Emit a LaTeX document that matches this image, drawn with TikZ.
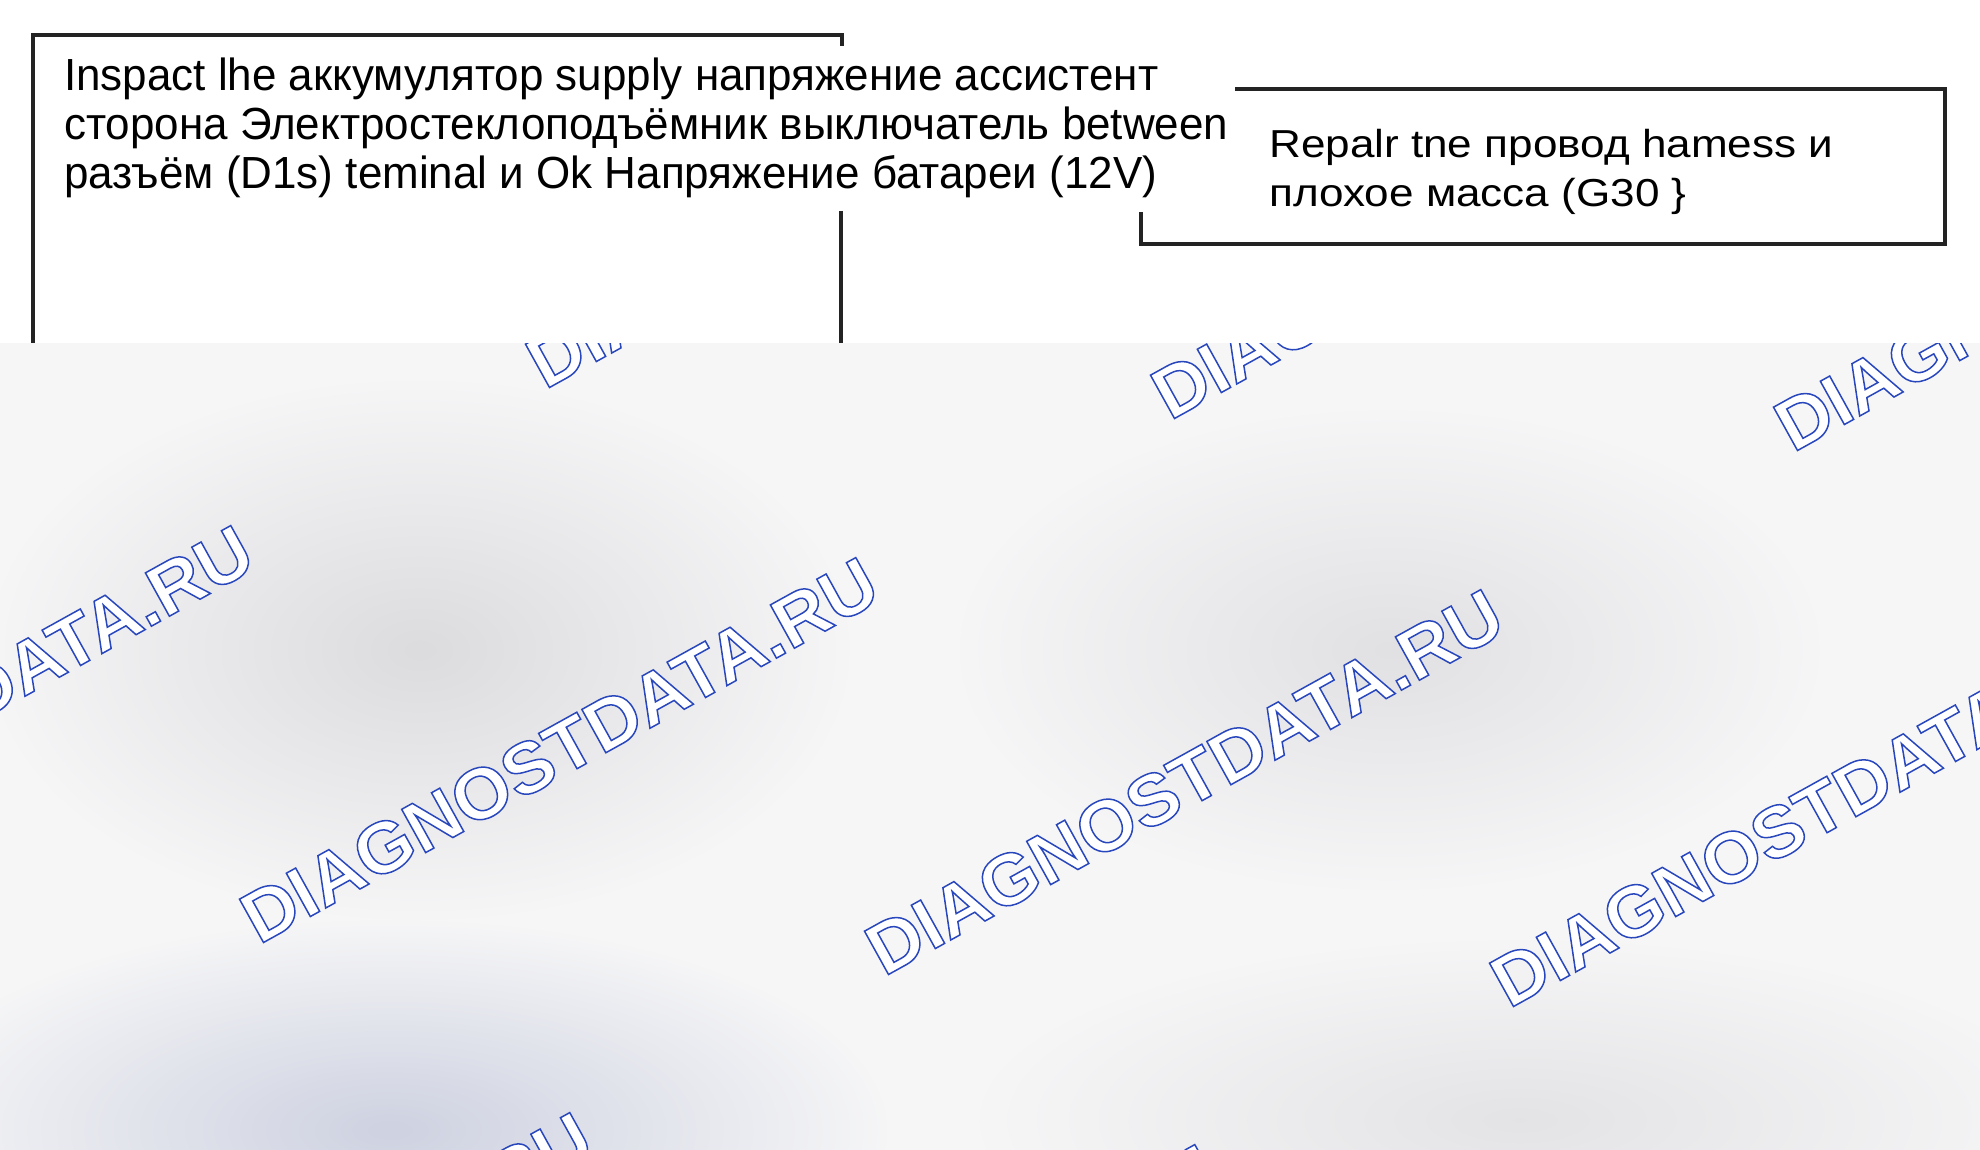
\documentclass[tikz,border=0pt]{standalone}
\usepackage{fontspec}
\setmainfont{Liberation Sans}
\newfontfamily\wmfont{Liberation Sans}[FakeStretch=1.03]
\newfontfamily\leftfont{Liberation Sans}[FakeStretch=0.977]
\newfontfamily\rightfont{Liberation Sans}[FakeStretch=1.13]
\usetikzlibrary{fadings}
\tikzfading[name=blob, inner color=transparent!0, outer color=transparent!100]
\definecolor{bgbase}{RGB}{246,246,247}
\definecolor{blobgrey}{RGB}{220,220,223}
\definecolor{blobblue}{RGB}{206,210,225}
\definecolor{boxline}{RGB}{35,35,35}
\newcommand{\wmtext}{{\color{white}\special{pdf:literal direct 2 Tr 1.5 w 0.16 0.28 0.74 RG}DIAGNOSTDATA.RU\special{pdf:literal direct 0 Tr}}}
\tikzset{
  wm/.style={anchor=base west, inner sep=0, rotate=29, font=\wmfont\bfseries\fontsize{72}{72}\selectfont},
  bigtxt/.style={anchor=base west, inner sep=0, font=\leftfont\fontsize{45}{49}\selectfont},
  smalltxt/.style={anchor=base west, inner sep=0, font=\rightfont\fontsize{39}{49}\selectfont},
  border/.style={draw=boxline, line width=3.4pt},
  blobfill/.style={path fading=blob}
}
\begin{document}
\begin{tikzpicture}[x=1pt,y=-1pt]
\useasboundingbox (0,0) rectangle (1980,1150);
% background
\fill[bgbase] (0,0) rectangle (1980,1150);
\fill[blobgrey, blobfill] (420,650) ellipse [x radius=430, y radius=270];
\fill[blobgrey, blobfill, fill opacity=0.8] (1390,650) ellipse [x radius=430, y radius=240];
\fill[blobblue, blobfill] (390,1130) ellipse [x radius=500, y radius=210];
\fill[blobgrey, blobfill, fill opacity=0.7] (1520,1120) ellipse [x radius=540, y radius=180];
% watermarks
\node[wm] (w1) at (545,390) {\wmtext};
\node[wm] (w2) at (1170,421) {\wmtext};
\node[wm] (w3) at (1793,453) {\wmtext};
\node[wm] (w4) at (-366,913) {\wmtext};
\node[wm] (w5) at (259,945) {\wmtext};
\node[wm] (w6) at (884,977) {\wmtext};
\node[wm] (w7) at (1509,1009) {\wmtext};
\node[wm] (w8) at (-27,1500) {\wmtext};
\node[wm] (w9) at (598,1532) {\wmtext};
% white top band
\fill[white] (0,0) rectangle (1980,343);
% left box
\coordinate (lbtick) at (842,46);
\coordinate (lbtr) at (842,35);
\coordinate (lbtl) at (33,35);
\coordinate (lbbl) at (33,343);
\coordinate (lbrt) at (841,211);
\coordinate (lbrb) at (841,343);
\draw[border] (lbtick) -- (lbtr) -- (lbtl) -- (lbbl);
\draw[border] (lbrt) -- (lbrb);
\node[bigtxt] (l1) at (64,91) {Inspact lhe аккумулятор supply напряжение ассистент};
\node[bigtxt] (l2) at (64,140) {сторона Электростеклоподъёмник выключатель between};
\node[bigtxt] (l3) at (64,189) {разъём (D1s) teminal и Ok Напряжение батареи (12V)};
% right box
\coordinate (rbtl) at (1235,89);
\coordinate (rbtr) at (1945,89);
\coordinate (rbbr) at (1945,244);
\coordinate (rbbl) at (1141,244);
\coordinate (rblt) at (1141,212);
\draw[border] (rbtl) -- (rbtr) -- (rbbr) -- (rbbl) -- (rblt);
\node[smalltxt] (r1) at (1269,158) {Repalr tne провод hamess и};
\node[smalltxt] (r2) at (1269,207) {плохое масса (G30 \}};
\end{tikzpicture}
\end{document}
